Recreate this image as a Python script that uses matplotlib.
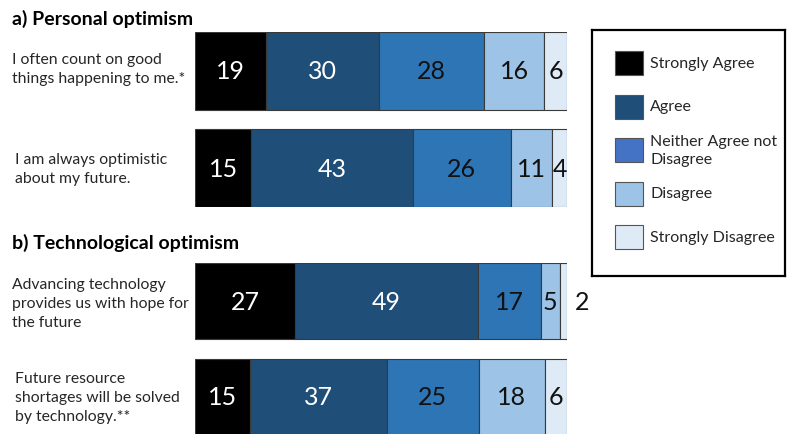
#!/usr/bin/env python3
"""Stacked Likert bars: personal vs technological optimism."""

import matplotlib
matplotlib.use("Agg")
import matplotlib.pyplot as plt
import numpy as np
from matplotlib.patches import Rectangle

plt.rcParams["font.family"] = ["Lato", "DejaVu Sans"]

# Data (percent of respondents)
CATEGORIES = ["Strongly Agree", "Agree", "Neither Agree not\nDisagree", "Disagree", "Strongly Disagree"]
PERSONAL_ITEMS = ["I often count on good\nthings happening to me.*", "I am always optimistic\nabout my future."]
PERSONAL_VALUES = [
    [19, 30, 28, 16, 6],
    [15, 43, 26, 11, 4],
]
TECH_ITEMS = ["Advancing technology\nprovides us with hope for\nthe future", "Future resource\nshortages will be solved\nby technology.**"]
TECH_VALUES = [
    [27, 49, 17, 5, 2],
    [15, 37, 25, 18, 6],
]

BAR_COLORS = ["#000000", "#1F4E79", "#2E75B6", "#9DC3E6", "#DEEBF7"]
LEGEND_COLORS = ["#000000", "#1F4E79", "#4472C4", "#9DC3E6", "#DEEBF7"]
TEXT_COLORS = ["white", "white", "#111111", "#111111", "#111111"]

W, H = 790, 435


def fig_rect(x0, y0, x1, y1):
    # pixel box (top-left origin) -> figure fraction
    return [x0 / W, 1 - y1 / H, (x1 - x0) / W, (y1 - y0) / H]


def draw_panel(fig, box, items, values, label_x, label_dy):
    ax = fig.add_axes(fig_rect(*box))
    vals = np.array(values, dtype=float)
    shares = vals / vals.sum(axis=1, keepdims=True) * 100
    ypos = np.arange(len(items))
    left = np.zeros(len(items))
    for j in range(vals.shape[1]):
        ax.barh(ypos, shares[:, j], left=left, height=0.8, color=BAR_COLORS[j],
                edgecolor="#3a3a3a", linewidth=0.8)
        for i in ypos:
            w = shares[i, j]
            if w < 3:
                ax.text(left[i] + w + 2.2, i, f"{vals[i, j]:.0f}", ha="left", va="center",
                        fontsize=18, color="#111111", clip_on=False)
            else:
                ax.text(left[i] + w / 2, i, f"{vals[i, j]:.0f}", ha="center", va="center",
                        fontsize=18, color=TEXT_COLORS[j])
        left += shares[:, j]
    ax.set_xlim(0, 100)
    ax.set_ylim(len(items) - 0.6, -0.4)
    ax.axis("off")
    for i, label in enumerate(items):
        # label text sits to the left of the axes, in axes-y data coords
        ax.annotate(label, xy=(0, i), xycoords=("axes fraction", "data"),
                    xytext=(label_x[i], label_dy[i]), textcoords=("figure pixels", "offset points"),
                    ha="left", va="center", fontsize=11.3, color="#262626",
                    linespacing=1.45)
    return ax


def draw_legend(fig):
    box = fig_rect(592, 31, 785, 277)
    lax = fig.add_axes(box)
    lax.set_xlim(0, 193)
    lax.set_ylim(246, 0)
    lax.set_xticks([])
    lax.set_yticks([])
    for s in lax.spines.values():
        s.set_linewidth(1.6)
        s.set_color("black")
    for i, (name, col) in enumerate(zip(CATEGORIES, LEGEND_COLORS)):
        cy = 33 + 43.5 * i
        lax.add_patch(Rectangle((23, cy - 12), 28, 24, facecolor=col, edgecolor="#555555", linewidth=0.8))
        lax.text(58, cy, name, ha="left", va="center", fontsize=11.5, color="#262626", linespacing=1.4)


def main():
    fig = plt.figure(figsize=(W / 100, H / 100), dpi=100)
    fig.text(12 / W, 1 - 19 / H, "a) Personal optimism", fontsize=14, fontweight="bold",
             ha="left", va="center")
    fig.text(12 / W, 1 - 243 / H, "b) Technological optimism", fontsize=14, fontweight="bold",
             ha="left", va="center")
    draw_panel(fig, (195, 33, 567, 208), PERSONAL_ITEMS, PERSONAL_VALUES, [12, 15], [2, 0])
    draw_panel(fig, (195, 264, 567, 436), TECH_ITEMS, TECH_VALUES, [12, 15], [-1, 0])
    draw_legend(fig)
    fig.savefig("out.png", dpi=100)
    plt.close(fig)


if __name__ == "__main__":
    main()
